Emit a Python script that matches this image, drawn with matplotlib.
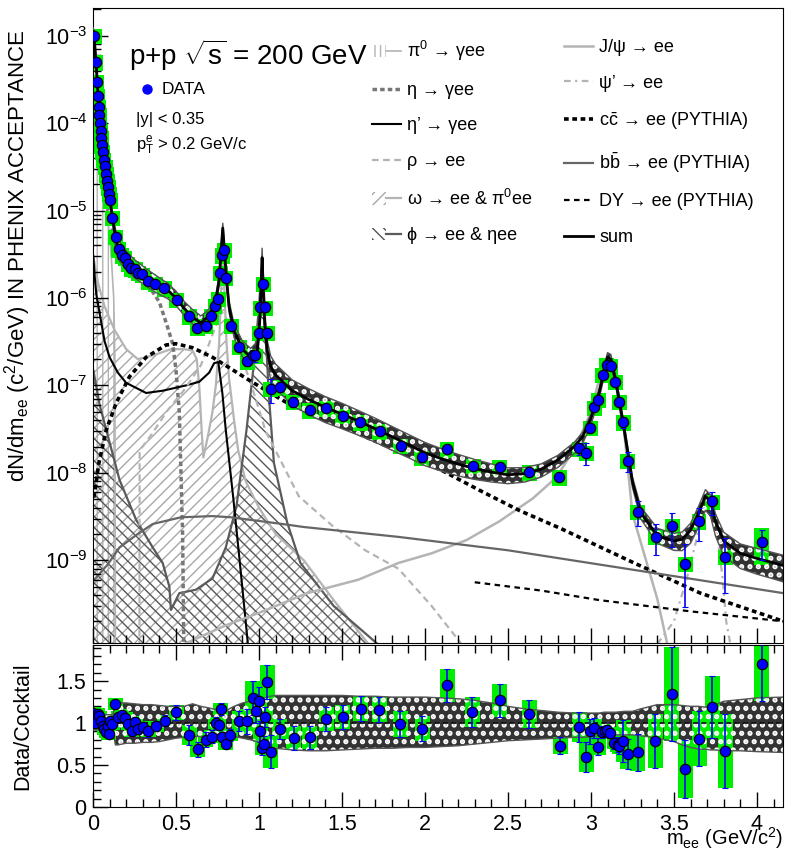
import numpy as np
import matplotlib
matplotlib.use("Agg")
import matplotlib.pyplot as plt
from matplotlib.patches import Patch
from matplotlib.lines import Line2D
from matplotlib.legend_handler import HandlerTuple
from matplotlib.ticker import LogLocator, NullFormatter, MultipleLocator, FormatStrFormatter

plt.rcParams['font.family'] = ['Liberation Sans', 'DejaVu Sans']
plt.rcParams['mathtext.fontset'] = 'custom'
plt.rcParams['mathtext.rm'] = 'Liberation Sans'
plt.rcParams['mathtext.it'] = 'Liberation Sans'
plt.rcParams['mathtext.bf'] = 'Liberation Sans:bold'
plt.rcParams['mathtext.sf'] = 'Liberation Sans'

# ---------------- data points (top panel) ----------------
data_m = [0.008, 0.018, 0.024, 0.030, 0.034, 0.038, 0.042, 0.047, 0.050, 0.054,
          0.060, 0.066, 0.073, 0.079, 0.085, 0.091, 0.097, 0.103, 0.115, 0.136,
          0.154, 0.175, 0.193, 0.211, 0.230, 0.254, 0.272, 0.296, 0.332, 0.375,
          0.429, 0.505, 0.580, 0.628, 0.680, 0.713, 0.735, 0.755, 0.767, 0.779,
          0.790, 0.800, 0.832, 0.880, 0.930, 0.967, 0.979, 1.001, 1.007, 1.027,
          1.037, 1.051, 1.070, 1.128, 1.208, 1.305, 1.406, 1.505, 1.611, 1.728,
          1.853, 1.982, 2.133, 2.290, 2.451, 2.628, 2.810, 2.930, 2.971, 2.995,
          3.019, 3.045, 3.070, 3.095, 3.120, 3.146, 3.172, 3.196, 3.222, 3.283,
          3.390, 3.490, 3.569, 3.651, 3.730, 3.808, 4.028]
data_y = [1.0e-3, 5.0e-4, 3.0e-4, 2.04e-4, 1.55e-4, 1.23e-4, 1.0e-4, 8.1e-5, 6.8e-5, 5.6e-5,
          4.7e-5, 3.8e-5, 3.2e-5, 2.6e-5, 2.2e-5, 1.86e-5, 1.55e-5, 1.32e-5, 8.3e-6, 5.0e-6,
          3.6e-6, 3.1e-6, 2.9e-6, 2.45e-6, 2.2e-6, 2.14e-6, 1.95e-6, 1.86e-6, 1.55e-6, 1.45e-6,
          1.29e-6, 9.5e-7, 6.2e-7, 4.6e-7, 4.8e-7, 6.2e-7, 8.1e-7, 9.8e-7, 1.95e-6, 3.1e-6,
          3.55e-6, 1.7e-6, 4.8e-7, 2.75e-7, 1.9e-7, 2.2e-7, 2.2e-7, 4.0e-7, 7.8e-7, 1.45e-6,
          7.8e-7, 4.0e-7, 9.1e-8, 9.5e-8, 6.5e-8, 5.2e-8, 5.5e-8, 4.5e-8, 3.8e-8, 3.0e-8,
          2.04e-8, 1.5e-8, 1.86e-8, 1.2e-8, 1.17e-8, 1.02e-8, 8.9e-9, 1.9e-8, 1.7e-8, 3.3e-8,
          5.6e-8, 6.9e-8, 1.32e-7, 1.7e-7, 1.66e-7, 1.1e-7, 6.5e-8, 3.8e-8, 1.38e-8, 3.6e-9,
          1.86e-9, 2.45e-9, 9.1e-10, 2.8e-9, 4.7e-9, 1.1e-9, 1.62e-9]
data_stat = [0.03, 0.03, 0.03, 0.03, 0.03, 0.03, 0.03, 0.03, 0.03, 0.03,
             0.03, 0.03, 0.03, 0.03, 0.03, 0.03, 0.03, 0.03, 0.04, 0.05,
             0.05, 0.05, 0.05, 0.05, 0.05, 0.05, 0.05, 0.05, 0.05, 0.05,
             0.06, 0.08, 0.12, 0.12, 0.10, 0.06, 0.06, 0.06, 0.06, 0.05,
             0.05, 0.06, 0.08, 0.10, 0.12, 0.15, 0.15, 0.12, 0.12, 0.12,
             0.12, 0.12, 0.30, 0.12, 0.12, 0.10, 0.10, 0.10, 0.10, 0.10,
             0.10, 0.12, 0.10, 0.10, 0.10, 0.10, 0.08, 0.15, 0.28, 0.10,
             0.08, 0.06, 0.05, 0.05, 0.05, 0.05, 0.10, 0.15, 0.25, 0.32,
             0.38, 0.42, 0.68, 0.40, 0.30, 0.62, 0.38]
data_sys = [0.2] * 86 + [0.45]

# ---------------- cocktail components ----------------
pi0_m = [0.0, 0.01, 0.02, 0.03, 0.05, 0.07, 0.09, 0.11, 0.125, 0.132, 0.135]
pi0_y = [1.1e-3, 5e-4, 2.8e-4, 1.5e-4, 5e-5, 2e-5, 8e-6, 3e-6, 1e-6, 2e-7, 1e-10]

eta_m = [0.0, 0.05, 0.1, 0.15, 0.2, 0.25, 0.3, 0.35, 0.4, 0.45, 0.48, 0.5, 0.52, 0.54, 0.547]
eta_y = [1.5e-4, 3e-5, 8e-6, 3.5e-6, 2.2e-6, 1.8e-6, 1.5e-6, 1.25e-6, 9e-7, 4.6e-7, 3e-7,
         1.5e-7, 5e-8, 2e-9, 1.1e-10]

etap_m = [0.002, 0.01, 0.02, 0.04, 0.07, 0.1, 0.15, 0.2, 0.32, 0.42, 0.56, 0.64, 0.7, 0.73,
          0.755, 0.78, 0.80, 0.845, 0.885, 0.925, 0.95]
etap_y = [3e-6, 1.8e-6, 1.1e-6, 6.7e-7, 3.2e-7, 2.1e-7, 1.4e-7, 1.07e-7, 8.2e-8, 8.7e-8, 1e-7,
          1.1e-7, 1.4e-7, 1.8e-7, 1.85e-7, 8e-8, 3.1e-8, 5.2e-9, 9.3e-10, 1.6e-10, 5e-11]

rho_m = [0.28, 0.281, 0.35, 0.45, 0.55, 0.65, 0.72, 0.76, 0.775, 0.8, 0.83, 0.9, 0.955, 1.04,
         1.24, 1.44, 1.64, 1.84, 2.04, 2.22]
rho_y = [1e-10, 1.8e-8, 2.7e-8, 5.2e-8, 8.9e-8, 1.7e-7, 3.8e-7, 6e-7, 7e-7, 6e-7, 5e-7, 2e-7,
         1e-7, 3e-8, 5.4e-9, 2.5e-9, 1.3e-9, 8e-10, 3e-10, 1.1e-10]

omega_m = [0.002, 0.03, 0.07, 0.13, 0.2, 0.27, 0.36, 0.47, 0.55, 0.6, 0.625, 0.64, 0.655,
           0.665, 0.69, 0.72, 0.74, 0.76, 0.772, 0.782, 0.792, 0.805, 0.82, 0.85, 0.875,
           0.92, 1.0, 1.1, 1.27, 1.45, 1.66]
omega_y = [3e-6, 1.5e-6, 8e-7, 4.3e-7, 2.6e-7, 2e-7, 2.2e-7, 2.6e-7, 2.6e-7, 2.5e-7, 2e-7,
           1e-7, 3e-8, 1.5e-8, 2.5e-8, 5e-8, 1e-7, 3e-7, 1.2e-6, 4.5e-6, 1.2e-6, 3e-7, 1.2e-7,
           4e-8, 1.8e-8, 8e-9, 4e-9, 2e-9, 1e-9, 3.5e-10, 1.1e-10]

phi_m = [0.002, 0.04, 0.08, 0.16, 0.26, 0.36, 0.42, 0.46, 0.47, 0.52, 0.62, 0.72, 0.8, 0.865,
         0.925, 0.975, 1.0, 1.01, 1.019, 1.03, 1.04, 1.06, 1.09, 1.17, 1.25, 1.45, 1.74]
phi_y = [1.5e-7, 6e-8, 3.1e-8, 8.3e-9, 2.9e-9, 1.4e-9, 9.3e-10, 5e-10, 2.7e-10, 4.2e-10,
         4.6e-10, 6.2e-10, 1.4e-9, 4.2e-9, 3.1e-8, 2.2e-7, 8e-7, 1.5e-6, 2.6e-6, 1.2e-6,
         4e-7, 7.5e-8, 1.3e-8, 2.7e-9, 9.3e-10, 3e-10, 1e-10]

jpsi_m = [0.55, 0.8, 1.0, 1.29, 1.6, 1.84, 2.04, 2.25, 2.45, 2.65, 2.79, 2.91, 3.0, 3.05,
          3.1, 3.15, 3.2, 3.25, 3.4, 3.46]
jpsi_y = [1.1e-10, 1.8e-10, 2.5e-10, 4.2e-10, 6e-10, 9.3e-10, 1.2e-9, 1.7e-9, 2.8e-9, 5.1e-9,
          8.8e-9, 2e-8, 5e-8, 1.2e-7, 1.9e-7, 1.2e-7, 3e-8, 3.4e-9, 3.6e-10, 1.1e-10]

psip_m = [3.4, 3.5, 3.575, 3.635, 3.675, 3.69, 3.715, 3.755, 3.795, 3.815, 3.84]
psip_y = [1.1e-10, 2e-10, 5.9e-10, 1.7e-9, 4.9e-9, 5.6e-9, 4.5e-9, 2.4e-9, 5.9e-10, 2e-10, 1.1e-10]

ccbar_m = [0.005, 0.036, 0.08, 0.14, 0.22, 0.32, 0.44, 0.5, 0.6, 0.72, 0.82, 0.94, 1.05, 1.17,
           1.5, 1.8, 2.1, 2.33, 2.57, 2.82, 3.25, 3.66, 4.16]
ccbar_y = [5.2e-9, 1.3e-8, 3.1e-8, 6.3e-8, 1.26e-7, 2.1e-7, 2.9e-7, 3e-7, 2.7e-7, 2.1e-7,
           1.6e-7, 1.15e-7, 8.6e-8, 6.3e-8, 3.4e-8, 1.9e-8, 1.07e-8, 6.3e-9, 3.7e-9, 2.3e-9,
           9.5e-10, 4.2e-10, 2e-10]

bbbar_m = [0.005, 0.09, 0.16, 0.27, 0.36, 0.53, 0.72, 0.83, 1.14, 1.27, 1.84, 2.5, 3.25, 4.16]
bbbar_y = [5.9e-10, 9e-10, 1.4e-9, 2e-9, 2.6e-9, 3.1e-9, 3.2e-9, 3.1e-9, 2.6e-9, 2.4e-9,
           1.85e-9, 1.3e-9, 7.8e-10, 4.2e-10]

dy_m = [2.3, 2.7, 3.05, 3.6, 4.16]
dy_y = [5.6e-10, 4.5e-10, 3.5e-10, 2.6e-10, 2e-10]

sum_m = [0.002, 0.01, 0.02, 0.03, 0.04, 0.05, 0.06, 0.07, 0.08, 0.09,
         0.10, 0.11, 0.12, 0.135, 0.15, 0.175, 0.2, 0.25, 0.3, 0.35,
         0.4, 0.45, 0.5, 0.55, 0.6, 0.65, 0.7, 0.74, 0.76, 0.772,
         0.782, 0.792, 0.805, 0.82, 0.85, 0.9, 0.95, 0.99, 1.005, 1.013,
         1.019, 1.025, 1.035, 1.05, 1.07, 1.1, 1.2, 1.3, 1.4, 1.5,
         1.6, 1.7, 1.8, 1.9, 2.0, 2.1, 2.2, 2.3, 2.4, 2.5,
         2.6, 2.7, 2.8, 2.9, 2.95, 3.0, 3.05, 3.08, 3.1, 3.12,
         3.15, 3.2, 3.25, 3.3, 3.4, 3.5, 3.55, 3.6, 3.65, 3.69,
         3.72, 3.75, 3.8, 3.9, 4.0, 4.16]
sum_y = [1.12e-3, 8.3e-4, 4.5e-4, 2.2e-4, 1.12e-4, 7.1e-5, 4.7e-5, 3.4e-5, 2.5e-5, 1.9e-5,
         1.4e-5, 1.05e-5, 7.6e-6, 5e-6, 3.8e-6, 3.2e-6, 2.75e-6, 2.24e-6, 1.9e-6, 1.62e-6,
         1.41e-6, 1.23e-6, 1e-6, 7.6e-7, 6e-7, 5.2e-7, 6.3e-7, 9.3e-7, 1.6e-6, 3.5e-6,
         6.3e-6, 3.5e-6, 1.6e-6, 7.9e-7, 4.2e-7, 2.6e-7, 2.1e-7, 2.5e-7, 5.6e-7, 1.4e-6,
         2.9e-6, 1.4e-6, 5e-7, 2.5e-7, 1.66e-7, 1.32e-7, 8.7e-8, 6.9e-8, 5.6e-8, 4.7e-8,
         3.9e-8, 3.2e-8, 2.6e-8, 2.1e-8, 1.7e-8, 1.45e-8, 1.26e-8, 1.12e-8, 1.02e-8, 9.5e-9,
         9.8e-9, 1.1e-8, 1.4e-8, 2e-8, 2.6e-8, 4.2e-8, 8.3e-8, 1.5e-7, 2.1e-7, 2e-7,
         1.12e-7, 3.2e-8, 7.9e-9, 3.5e-9, 1.9e-9, 1.66e-9, 1.74e-9, 2.2e-9, 3.5e-9, 5.4e-9,
         4.7e-9, 2.8e-9, 1.66e-9, 1.2e-9, 1.05e-9, 8.7e-10]
band_hi = [1.1, 1.1, 1.1, 1.1, 1.1, 1.1, 1.1, 1.1, 1.1, 1.1,
           1.1, 1.1, 1.1, 1.25, 1.25, 1.24, 1.24, 1.23, 1.22, 1.22,
           1.21, 1.2, 1.2, 1.2, 1.23, 1.2, 1.18, 1.16, 1.15, 1.14,
           1.14, 1.14, 1.14, 1.17, 1.2, 1.24, 1.26, 1.27, 1.27, 1.28,
           1.28, 1.29, 1.3, 1.31, 1.32, 1.33, 1.33, 1.33, 1.33, 1.33,
           1.32, 1.32, 1.31, 1.31, 1.31, 1.3, 1.29, 1.27, 1.24, 1.2,
           1.17, 1.15, 1.13, 1.12, 1.12, 1.12, 1.12, 1.13, 1.13, 1.13,
           1.13, 1.14, 1.14, 1.17, 1.22, 1.22, 1.21, 1.2, 1.2, 1.19,
           1.2, 1.22, 1.26, 1.28, 1.3, 1.31]
band_lo = [0.92, 0.92, 0.92, 0.92, 0.92, 0.92, 0.92, 0.92, 0.92, 0.92,
           0.92, 0.92, 0.92, 0.74, 0.74, 0.75, 0.76, 0.76, 0.77, 0.77,
           0.78, 0.8, 0.82, 0.83, 0.84, 0.84, 0.85, 0.86, 0.87, 0.88,
           0.89, 0.89, 0.88, 0.86, 0.84, 0.82, 0.8, 0.78, 0.77, 0.76,
           0.75, 0.74, 0.73, 0.72, 0.71, 0.7, 0.68, 0.67, 0.67, 0.68,
           0.69, 0.7, 0.7, 0.71, 0.71, 0.72, 0.73, 0.75, 0.77, 0.79,
           0.8, 0.81, 0.82, 0.83, 0.83, 0.84, 0.85, 0.85, 0.86, 0.86,
           0.86, 0.86, 0.86, 0.85, 0.82, 0.78, 0.74, 0.71, 0.69, 0.69,
           0.68, 0.68, 0.67, 0.67, 0.66, 0.65]

# ---------------- ratio panel ----------------
ratio_m = [0.002, 0.012, 0.028, 0.038, 0.048, 0.058, 0.068, 0.079, 0.089, 0.095,
           0.103, 0.115, 0.135, 0.153, 0.175, 0.195, 0.213, 0.234, 0.254, 0.274,
           0.300, 0.332, 0.380, 0.431, 0.503, 0.580, 0.630, 0.679, 0.715, 0.739,
           0.759, 0.769, 0.779, 0.800, 0.828, 0.880, 0.930, 0.963, 0.985, 1.001,
           1.007, 1.019, 1.031, 1.039, 1.051, 1.070, 1.124, 1.210, 1.305, 1.406,
           1.505, 1.613, 1.726, 1.851, 1.984, 2.135, 2.286, 2.451, 2.628, 2.814,
           2.931, 2.971, 2.995, 3.019, 3.045, 3.065, 3.082, 3.096, 3.116, 3.142,
           3.162, 3.172, 3.196, 3.222, 3.283, 3.388, 3.488, 3.567, 3.652, 3.730,
           3.810, 4.030]
ratio_y = [1.12, 1.00, 1.11, 1.08, 1.02, 0.97, 0.93, 0.89, 0.96, 0.87,
           1.02, 0.99, 1.23, 1.07, 1.10, 1.06, 0.99, 0.90, 1.01, 0.93,
           0.95, 0.90, 0.96, 1.03, 1.13, 0.86, 0.69, 0.80, 0.84, 1.00,
           0.98, 1.17, 0.84, 0.75, 0.86, 1.03, 1.02, 1.30, 1.15, 1.26,
           0.90, 0.70, 0.75, 1.07, 1.49, 0.66, 0.93, 0.82, 0.83, 1.05,
           1.07, 1.17, 1.16, 0.99, 0.935, 1.45, 1.13, 1.27, 1.11, 0.73,
           0.95, 0.60, 0.90, 0.94, 0.72, 0.89, 0.90, 0.92, 0.88, 0.76,
           0.74, 0.73, 0.79, 0.63, 0.655, 0.79, 1.345, 0.453, 0.815, 1.19,
           0.67, 1.71]
ratio_err = [0.04, 0.04, 0.04, 0.04, 0.04, 0.04, 0.04, 0.04, 0.04, 0.04,
             0.04, 0.05, 0.05, 0.05, 0.05, 0.05, 0.05, 0.05, 0.06, 0.06,
             0.06, 0.06, 0.06, 0.07, 0.09, 0.12, 0.09, 0.09, 0.08, 0.07,
             0.06, 0.07, 0.05, 0.05, 0.07, 0.12, 0.15, 0.20, 0.15, 0.17,
             0.12, 0.08, 0.10, 0.12, 0.20, 0.20, 0.12, 0.14, 0.14, 0.14,
             0.14, 0.15, 0.15, 0.15, 0.15, 0.20, 0.18, 0.20, 0.17, 0.10,
             0.18, 0.18, 0.15, 0.12, 0.10, 0.07, 0.06, 0.06, 0.06, 0.07,
             0.08, 0.10, 0.25, 0.18, 0.22, 0.32, 0.56, 0.34, 0.33, 0.37,
             0.44, 0.45]

LGRAY = '#b4b4b4'
GREEN = '#00ee00'
BLUE = '#0000ff'
HATCH_LW = 2.5

fig = plt.figure(figsize=(7.9, 8.52), dpi=100)
ax1 = fig.add_axes([0.1177, 0.2453, 0.8734, 0.7453])
ax2 = fig.add_axes([0.1177, 0.0528, 0.8734, 0.1901])

sum_m_a = np.array(sum_m)
sum_y_a = np.array(sum_y)
hi_a = np.array(band_hi)
lo_a = np.array(band_lo)
ymin = 1.13e-10

# --- hatched components ---
ax1.fill_between(pi0_m, ymin, pi0_y, facecolor='none', edgecolor=LGRAY, hatch='|||',
                 linewidth=0, zorder=1)
ax1.plot(pi0_m, pi0_y, color=LGRAY, lw=1.2, zorder=1.2)
ax1.fill_between(omega_m, ymin, omega_y, facecolor='none', edgecolor='#a8a8a8', hatch='///',
                 linewidth=0, zorder=1)
ax1.plot(omega_m, omega_y, color=LGRAY, lw=1.6, zorder=1.2)
ax1.fill_between(phi_m, ymin, phi_y, facecolor='none', edgecolor='#555555', hatch='\\\\\\',
                 linewidth=0, zorder=1)
ax1.plot(phi_m, phi_y, color='#5a5a5a', lw=1.6, zorder=1.2)

# --- line components ---
ax1.plot(eta_m, eta_y, color='#777777', lw=2.5, dashes=(1.3, 0.9), zorder=1.3)
ax1.plot(etap_m, etap_y, color='black', lw=1.5, zorder=1.3)
ax1.plot(rho_m, rho_y, color=LGRAY, lw=1.6, dashes=(3, 2), zorder=1.3)
ax1.plot(jpsi_m, jpsi_y, color=LGRAY, lw=1.8, zorder=1.3)
ax1.plot(psip_m, psip_y, color=LGRAY, lw=1.6, dashes=(3, 2, 1, 2), zorder=1.3)
ax1.plot(ccbar_m, ccbar_y, color='black', lw=2.6, dashes=(1.3, 1.0), zorder=1.3)
ax1.plot(bbbar_m, bbbar_y, color='#666666', lw=1.6, zorder=1.3)
ax1.plot(dy_m, dy_y, color='black', lw=1.6, dashes=(2.5, 2), zorder=1.3)

# --- cocktail sum band, data ---
ax1.fill_between(sum_m_a, sum_y_a * lo_a, sum_y_a * hi_a, facecolor='#333333', linewidth=0,
                 zorder=1.5)
ax1.bar(data_m, np.array(data_y) * 2 * np.array(data_sys), width=0.09,
        bottom=np.array(data_y) * (1 - np.array(data_sys)), color=GREEN, linewidth=0, zorder=2)
with plt.rc_context({'hatch.linewidth': HATCH_LW}):
    ax1.fill_between(sum_m_a, sum_y_a * lo_a, sum_y_a * hi_a, facecolor='none',
                     edgecolor='white', hatch='..', linewidth=0, zorder=3)
ax1.plot(sum_m_a, sum_y_a * lo_a, color='#555555', lw=1.0, zorder=3.1)
ax1.plot(sum_m_a, sum_y_a * hi_a, color='#555555', lw=1.0, zorder=3.1)
ax1.plot(sum_m, sum_y, color='black', lw=2.0, zorder=4)
ax1.errorbar(data_m, data_y, yerr=np.array(data_y) * np.array(data_stat), fmt='o', ms=7.5,
             mfc=BLUE, mec='black', mew=0.8, ecolor=BLUE, elinewidth=1.2, capsize=2.5,
             zorder=6)

ax1.set_yscale('log')
ax1.set_xlim(0, 4.157)
ax1.set_ylim(ymin, 2.08e-3)
ax1.yaxis.set_major_locator(LogLocator(base=10, numticks=20))
ax1.yaxis.set_minor_locator(LogLocator(base=10, subs=np.arange(2, 10), numticks=100))
ax1.yaxis.set_minor_formatter(NullFormatter())
ax1.xaxis.set_major_locator(MultipleLocator(0.5))
ax1.xaxis.set_minor_locator(MultipleLocator(0.1))
ax1.tick_params(axis='both', which='both', direction='in', top=False, right=False)
ax1.tick_params(axis='both', which='major', length=11, width=1, labelsize=15.5, pad=4)
ax1.tick_params(axis='both', which='minor', length=6, width=1)
ax1.tick_params(axis='x', labelbottom=False)
ax1.set_ylabel(r'dN/dm$_{ee}$ (c$^{2}$/GeV) IN PHENIX ACCEPTANCE', fontsize=16)
ax1.yaxis.set_label_coords(-0.087, 0.61)

ax1.text(0.052, 0.925, r'p+p $\sqrt{\rm s}$ = 200 GeV', transform=ax1.transAxes, fontsize=20,
         va='center')
ax1.plot([0.079], [0.872], 'o', ms=6.5, color=BLUE, transform=ax1.transAxes)
ax1.text(0.1, 0.872, 'DATA', transform=ax1.transAxes, fontsize=12.5, va='center')
ax1.text(0.063, 0.825, '|y| < 0.35', transform=ax1.transAxes, fontsize=12, va='center')
ax1.text(0.063, 0.783, r'p$_{\rm T}^{\rm e}$ > 0.2 GeV/c', transform=ax1.transAxes,
         fontsize=12, va='center')

# --- legend (two columns) ---
h_pi0 = (Patch(facecolor='none', edgecolor=LGRAY, hatch='|||', linewidth=0),
         Line2D([], [], color=LGRAY, lw=1.2))
h_omega = (Patch(facecolor='none', edgecolor='#a8a8a8', hatch='///', linewidth=0),
           Line2D([], [], color=LGRAY, lw=1.6))
h_phi = (Patch(facecolor='none', edgecolor='#555555', hatch='\\\\\\', linewidth=0),
         Line2D([], [], color='#5a5a5a', lw=1.6))
col1 = [h_pi0,
        Line2D([], [], color='#777777', lw=2.5, dashes=(1.3, 0.9)),
        Line2D([], [], color='black', lw=1.5),
        Line2D([], [], color=LGRAY, lw=1.6, dashes=(3, 2)),
        h_omega, h_phi]
lab1 = ['π$^{0}$ → γee', 'η → γee', 'η’ → γee', 'ρ → ee',
        'ω → ee & π$^{0}$ee', 'ϕ → ee & ηee']
col2 = [Line2D([], [], color=LGRAY, lw=1.8),
        Line2D([], [], color=LGRAY, lw=1.6, dashes=(3, 2, 1, 2)),
        Line2D([], [], color='black', lw=2.6, dashes=(1.3, 1.0)),
        Line2D([], [], color='#666666', lw=1.6),
        Line2D([], [], color='black', lw=1.6, dashes=(2.5, 2)),
        Line2D([], [], color='black', lw=2.0)]
lab2 = ['J/ψ → ee', 'ψ’ → ee', r'$\mathrm{c\bar{c}}$ → ee (PYTHIA)',
        r'$\mathrm{b\bar{b}}$ → ee (PYTHIA)', 'DY → ee (PYTHIA)', 'sum']
leg_kw = dict(frameon=False, fontsize=13, handlelength=1.6, handletextpad=0.35,
              labelspacing=1.03, borderpad=0, borderaxespad=0, loc='upper left',
              handler_map={tuple: HandlerTuple(ndivide=None, pad=0)})
leg1 = ax1.legend(col1, lab1, bbox_to_anchor=(0.404, 0.951), **leg_kw)
ax1.add_artist(leg1)
ax1.legend(col2, lab2, bbox_to_anchor=(0.683, 0.951), **leg_kw)

# ---------------- ratio panel drawing ----------------
ax2.fill_between(sum_m_a, lo_a, hi_a, facecolor='#333333', linewidth=0, zorder=1)
box = np.maximum(np.array(ratio_err), 0.07)
ax2.bar(ratio_m, 2 * box, width=0.09, bottom=np.array(ratio_y) - box, color=GREEN,
        linewidth=0, zorder=2)
with plt.rc_context({'hatch.linewidth': HATCH_LW}):
    ax2.fill_between(sum_m_a, lo_a, hi_a, facecolor='none', edgecolor='white', hatch='..',
                     linewidth=0, zorder=3)
ax2.plot(sum_m_a, lo_a, color='#555555', lw=1.0, zorder=3.1)
ax2.plot(sum_m_a, hi_a, color='#555555', lw=1.0, zorder=3.1)
ax2.axhline(1.0, color='black', lw=1.2, dashes=(3, 2), zorder=4)
ax2.errorbar(ratio_m, ratio_y, yerr=ratio_err, fmt='o', ms=7.5, mfc=BLUE, mec='black', mew=0.8,
             ecolor=BLUE, elinewidth=1.2, capsize=2.5, zorder=6)
ax2.set_xlim(0, 4.157)
ax2.set_ylim(0, 1.93)
ax2.xaxis.set_major_locator(MultipleLocator(0.5))
ax2.xaxis.set_minor_locator(MultipleLocator(0.1))
ax2.yaxis.set_major_locator(MultipleLocator(0.5))
ax2.yaxis.set_minor_locator(MultipleLocator(0.1))
ax2.xaxis.set_major_formatter(FormatStrFormatter('%g'))
ax2.yaxis.set_major_formatter(FormatStrFormatter('%g'))
ax2.tick_params(axis='both', which='both', direction='in', top=True, right=False)
ax2.tick_params(axis='both', which='major', length=11, width=1, labelsize=15.5, pad=5)
ax2.tick_params(axis='both', which='minor', length=6, width=1)
ax2.set_ylabel('Data/Cocktail', fontsize=15.5)
ax2.yaxis.set_label_coords(-0.087, 0.5)
ax2.set_xlabel(r'm$_{ee}$ (GeV/c$^{2}$)', fontsize=14.5, ha='right')
ax2.xaxis.set_label_coords(1.0, -0.112)

fig.savefig('out.png', dpi=100)
